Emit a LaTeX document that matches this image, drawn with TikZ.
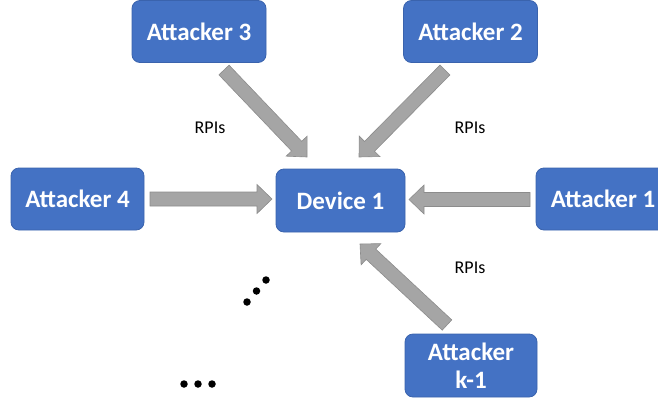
\documentclass[tikz,border=0pt]{standalone}
\usepackage{fontspec}
\setmainfont{Carlito}
\usetikzlibrary{calc}
\definecolor{boxblue}{HTML}{4472C4}
\definecolor{boxedge}{HTML}{3A63AD}
\definecolor{arrgray}{HTML}{A5A5A5}
\definecolor{arredge}{HTML}{8C8C8C}
\tikzset{
  abox/.style={draw=boxedge, line width=0.8pt, fill=boxblue, rounded corners=8pt,
    text=white, font=\fontsize{25}{29}\selectfont\bfseries, align=center,
    inner sep=0pt, minimum width=#1, minimum height=62pt},
  abox/.default=134pt,
  lbl/.style={font=\fontsize{18}{21}\selectfont, text=black},
  blockarr/.style={fill=arrgray, draw=arredge, line width=0.6pt},
  dot/.style={fill=black, circle, inner sep=0pt, minimum size=7.5pt}
}
\newcommand\blockarrow[2]{%
  \path ($(#2)!15pt!(#1)$) coordinate (hh);
  \draw[blockarr] ($(#1)!7pt!90:(#2)$) -- ($(hh)!7pt!-90:(#1)$) -- ($(hh)!14.5pt!-90:(#1)$)
    -- (#2) -- ($(hh)!14.5pt!90:(#1)$) -- ($(hh)!7pt!90:(#1)$) -- ($(#1)!7pt!-90:(#2)$) -- cycle;
}
\begin{document}
\begin{tikzpicture}[x=1pt,y=-1pt]
\useasboundingbox (0,0) rectangle (658,402);
\clip (0,0) rectangle (658,402);
\node[abox] (a3) at (199,31.5) {Attacker 3};
\node[abox] (a2) at (470.5,31.5) {Attacker 2};
\node[abox=129pt, minimum height=63pt] (dev) at (340.5,200.5) {Device 1};
\node[abox=133pt] (a4) at (77.5,199) {Attacker 4};
\node[abox] (a1) at (603,199) {Attacker 1};
\node[abox=132pt, minimum height=63pt] (ak) at (471,365.5) {Attacker\\[-1pt]k-1};

\coordinate (t3) at (224,70);   \coordinate (h3) at (307,157);
\coordinate (t2) at (445,70);   \coordinate (h2) at (359,157);
\coordinate (tk) at (447,325);  \coordinate (hk) at (360,244);
\coordinate (t4) at (150,199);  \coordinate (h4) at (272,199);
\coordinate (t1) at (530,199.5);\coordinate (h1) at (409,199.5);
\blockarrow{t3}{h3}
\blockarrow{t2}{h2}
\blockarrow{tk}{hk}
\blockarrow{t4}{h4}
\blockarrow{t1}{h1}

\node[lbl] (r1) at (210,128) {RPIs};
\node[lbl] (r2) at (470,128) {RPIs};
\node[lbl] (r3) at (470,268) {RPIs};

\node[dot] (d1) at (247,302) {};
\node[dot] (d2) at (256.5,291) {};
\node[dot] (d3) at (266,280) {};
\node[dot] (d4) at (184,384) {};
\node[dot] (d5) at (198,384) {};
\node[dot] (d6) at (212,384) {};
\end{tikzpicture}
\end{document}
